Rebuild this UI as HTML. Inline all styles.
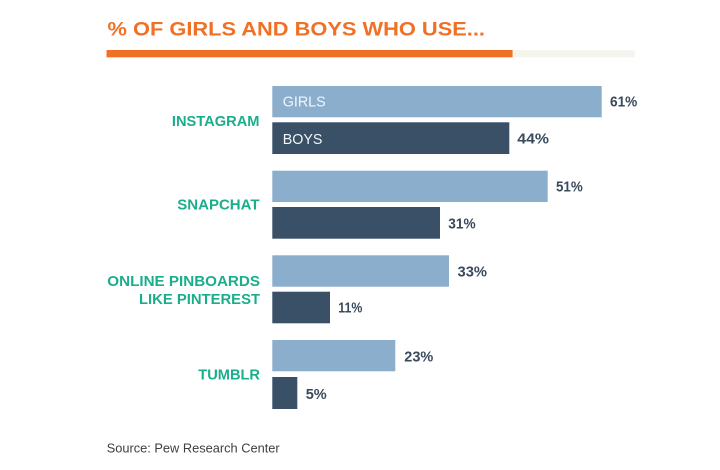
<!DOCTYPE html>
<html>
<head>
<meta charset="utf-8">
<style>
  html,body{margin:0;padding:0;background:#ffffff;}
  svg{display:block;}
  text{font-family:"Liberation Sans", sans-serif;}
</style>
</head>
<body>
<svg width="720" height="470" viewBox="0 0 720 470" xmlns="http://www.w3.org/2000/svg">
  <rect x="0" y="0" width="720" height="470" fill="#ffffff"/>

  <!-- Title -->
  <text x="107.5" y="35.7" font-size="19" font-weight="bold" fill="#F07026" textLength="377.5" lengthAdjust="spacingAndGlyphs">% OF GIRLS AND BOYS WHO USE...</text>
  <rect x="106.5" y="50" width="406.2" height="7.3" fill="#F07026"/>
  <rect x="512.7" y="50" width="122" height="7.3" fill="#F5F5F0"/>

  <!-- Bars -->
  <g>
    <rect x="272.3" y="86" width="329.4" height="31.3" fill="#8CAECD"/>
    <rect x="272.3" y="122.3" width="237" height="31.7" fill="#3A5066"/>

    <rect x="272.3" y="170.7" width="275.4" height="31.3" fill="#8CAECD"/>
    <rect x="272.3" y="207" width="167.7" height="31.7" fill="#3A5066"/>

    <rect x="272.3" y="255.3" width="176.7" height="31.4" fill="#8CAECD"/>
    <rect x="272.3" y="291.7" width="57.7" height="31.6" fill="#3A5066"/>

    <rect x="272.3" y="340" width="123" height="31.3" fill="#8CAECD"/>
    <rect x="272.3" y="377" width="25" height="32" fill="#3A5066"/>
  </g>

  <!-- In-bar legend labels -->
  <text x="282.7" y="106.7" font-size="14.5" fill="#F2F5F9" textLength="43" lengthAdjust="spacingAndGlyphs">GIRLS</text>
  <text x="282.7" y="144" font-size="14.5" fill="#F2F5F9" textLength="39.7" lengthAdjust="spacingAndGlyphs">BOYS</text>

  <!-- Category labels -->
  <g font-size="15" font-weight="bold" fill="#1BAE8B" text-anchor="end">
    <text x="259.5" y="126" textLength="87.6" lengthAdjust="spacingAndGlyphs">INSTAGRAM</text>
    <text x="259.5" y="209.3" textLength="82.2" lengthAdjust="spacingAndGlyphs">SNAPCHAT</text>
    <text x="260" y="286" textLength="152.7" lengthAdjust="spacingAndGlyphs">ONLINE PINBOARDS</text>
    <text x="260" y="304" textLength="121" lengthAdjust="spacingAndGlyphs">LIKE PINTEREST</text>
    <text x="260" y="379.3" textLength="61.7" lengthAdjust="spacingAndGlyphs">TUMBLR</text>
  </g>

  <!-- Value labels -->
  <g font-size="14.5" font-weight="bold" fill="#3A4A5C">
    <text x="610" y="106.7" textLength="27.3" lengthAdjust="spacingAndGlyphs">61%</text>
    <text x="517.3" y="143.3" textLength="31.7" lengthAdjust="spacingAndGlyphs">44%</text>
    <text x="556" y="191.7" textLength="26.7" lengthAdjust="spacingAndGlyphs">51%</text>
    <text x="448.3" y="228.3" textLength="27.3" lengthAdjust="spacingAndGlyphs">31%</text>
    <text x="457.5" y="276.3" textLength="29.5" lengthAdjust="spacingAndGlyphs">33%</text>
    <text x="338.3" y="312.3" textLength="24" lengthAdjust="spacingAndGlyphs">11%</text>
    <text x="404.3" y="361.7" textLength="29" lengthAdjust="spacingAndGlyphs">23%</text>
    <text x="305.7" y="399" textLength="21" lengthAdjust="spacingAndGlyphs">5%</text>
  </g>

  <!-- Source -->
  <text x="106.7" y="452.3" font-size="13" fill="#3E3E3E" textLength="173" lengthAdjust="spacingAndGlyphs">Source: Pew Research Center</text>
</svg>
</body>
</html>
